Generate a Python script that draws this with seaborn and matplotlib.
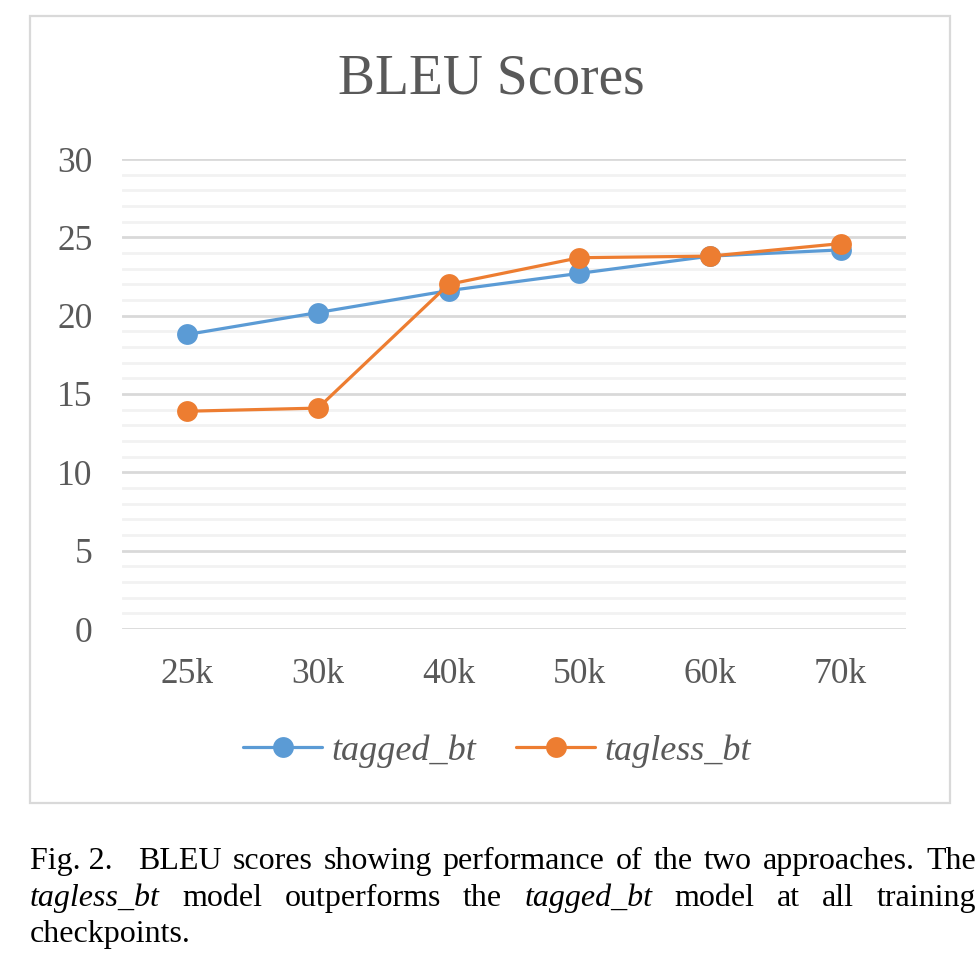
import numpy as np
import pandas as pd
import matplotlib
matplotlib.use("Agg")
import matplotlib.pyplot as plt
import seaborn as sns
from matplotlib.patches import Rectangle
from matplotlib.ticker import MultipleLocator

checkpoints = ['25k', '30k', '40k', '50k', '60k', '70k']
tagged_bt = [18.8, 20.2, 21.6, 22.7, 23.8, 24.2]
tagless_bt = [13.9, 14.1, 22.0, 23.7, 23.8, 24.6]
series_names = ['tagged_bt', 'tagless_bt']
colors = ['#5b9bd5', '#ed7d31']
y_ticks = [0, 5, 10, 15, 20, 25, 30]

df = pd.DataFrame({
    'checkpoint': checkpoints * 2,
    'bleu': tagged_bt + tagless_bt,
    'model': [series_names[0]] * len(checkpoints) + [series_names[1]] * len(checkpoints),
})

sns.set_style('white')
plt.rcParams['font.family'] = ['Liberation Serif', 'DejaVu Serif']

W, H = 979, 976
fig = plt.figure(figsize=(W / 100, H / 100), dpi=100)
ax = fig.add_axes([122 / W, 1 - 629 / H, 784 / W, 470 / H])

sns.lineplot(data=df, x='checkpoint', y='bleu', hue='model', palette=colors,
             marker='o', markersize=15, markeredgewidth=0, linewidth=2.3,
             sort=False, ax=ax, legend=False)

gray = '#595959'
ax.set_xlim(-0.5, len(checkpoints) - 0.5)
ax.set_ylim(0, 30)
ax.set_yticks(y_ticks)
ax.yaxis.set_minor_locator(MultipleLocator(1))
ax.grid(which='major', axis='y', color='#d9d9d9', linewidth=2)
ax.grid(which='minor', axis='y', color='#f2f2f2', linewidth=2)
ax.set_axisbelow(True)
for s in ax.spines.values():
    s.set_visible(False)
ax.tick_params(axis='both', which='both', length=0, labelsize=25.5, labelcolor=gray)
ax.tick_params(axis='y', pad=21)
ax.tick_params(axis='x', pad=21)
ax.set_xlabel('')
ax.set_ylabel('')

# legend
handles = [plt.Line2D([], [], color=c, marker='o', markersize=15, markeredgewidth=0, linewidth=2.3)
           for c in colors]
fig.legend(handles, series_names, loc='center', bbox_to_anchor=(497 / W, 1 - 751 / H), ncol=2,
           frameon=False, prop={'style': 'italic', 'size': 26}, labelcolor=gray,
           handlelength=2.2, handletextpad=0.25, columnspacing=1.1)

fig.text(491 / W, 1 - 93 / H, 'BLEU Scores', ha='center', va='baseline', fontsize=40, color=gray)

# chart border
fig.patches.append(Rectangle((30 / W, 1 - 803 / H), 920 / W, 787 / H, transform=fig.transFigure,
                             fill=False, edgecolor='#d9d9d9', linewidth=1.6))

# caption, justified
cap_lines = [
    [('Fig. 2.', 'normal'), ('BLEU', 'normal'), ('scores', 'normal'), ('showing', 'normal'),
     ('performance', 'normal'), ('of', 'normal'), ('the', 'normal'), ('two', 'normal'),
     ('approaches.', 'normal'), ('The', 'normal')],
    [('tagless_bt', 'italic'), ('model', 'normal'), ('outperforms', 'normal'), ('the', 'normal'),
     ('tagged_bt', 'italic'), ('model', 'normal'), ('at', 'normal'), ('all', 'normal'),
     ('training', 'normal')],
    [('checkpoints.', 'normal')],
]
first_gap_extra = [14, 0, 0]
baselines = [869, 906, 942]
left, right = 30, 976
fig.canvas.draw()
renderer = fig.canvas.get_renderer()
for i, (words, yb) in enumerate(zip(cap_lines, baselines)):
    texts = [fig.text(0, 1 - yb / H, w, fontsize=23, style=st, color='black', va='baseline')
             for w, st in words]
    widths = [t.get_window_extent(renderer).width for t in texts]
    if len(texts) > 1 and i < len(cap_lines) - 1:
        gap = (right - left - sum(widths) - first_gap_extra[i]) / (len(texts) - 1)
    else:
        gap = 6
    x = left
    for j, (t, wd) in enumerate(zip(texts, widths)):
        t.set_x(x / W)
        x += wd + gap + (first_gap_extra[i] if j == 0 else 0)

fig.savefig('out.png', dpi=100)
